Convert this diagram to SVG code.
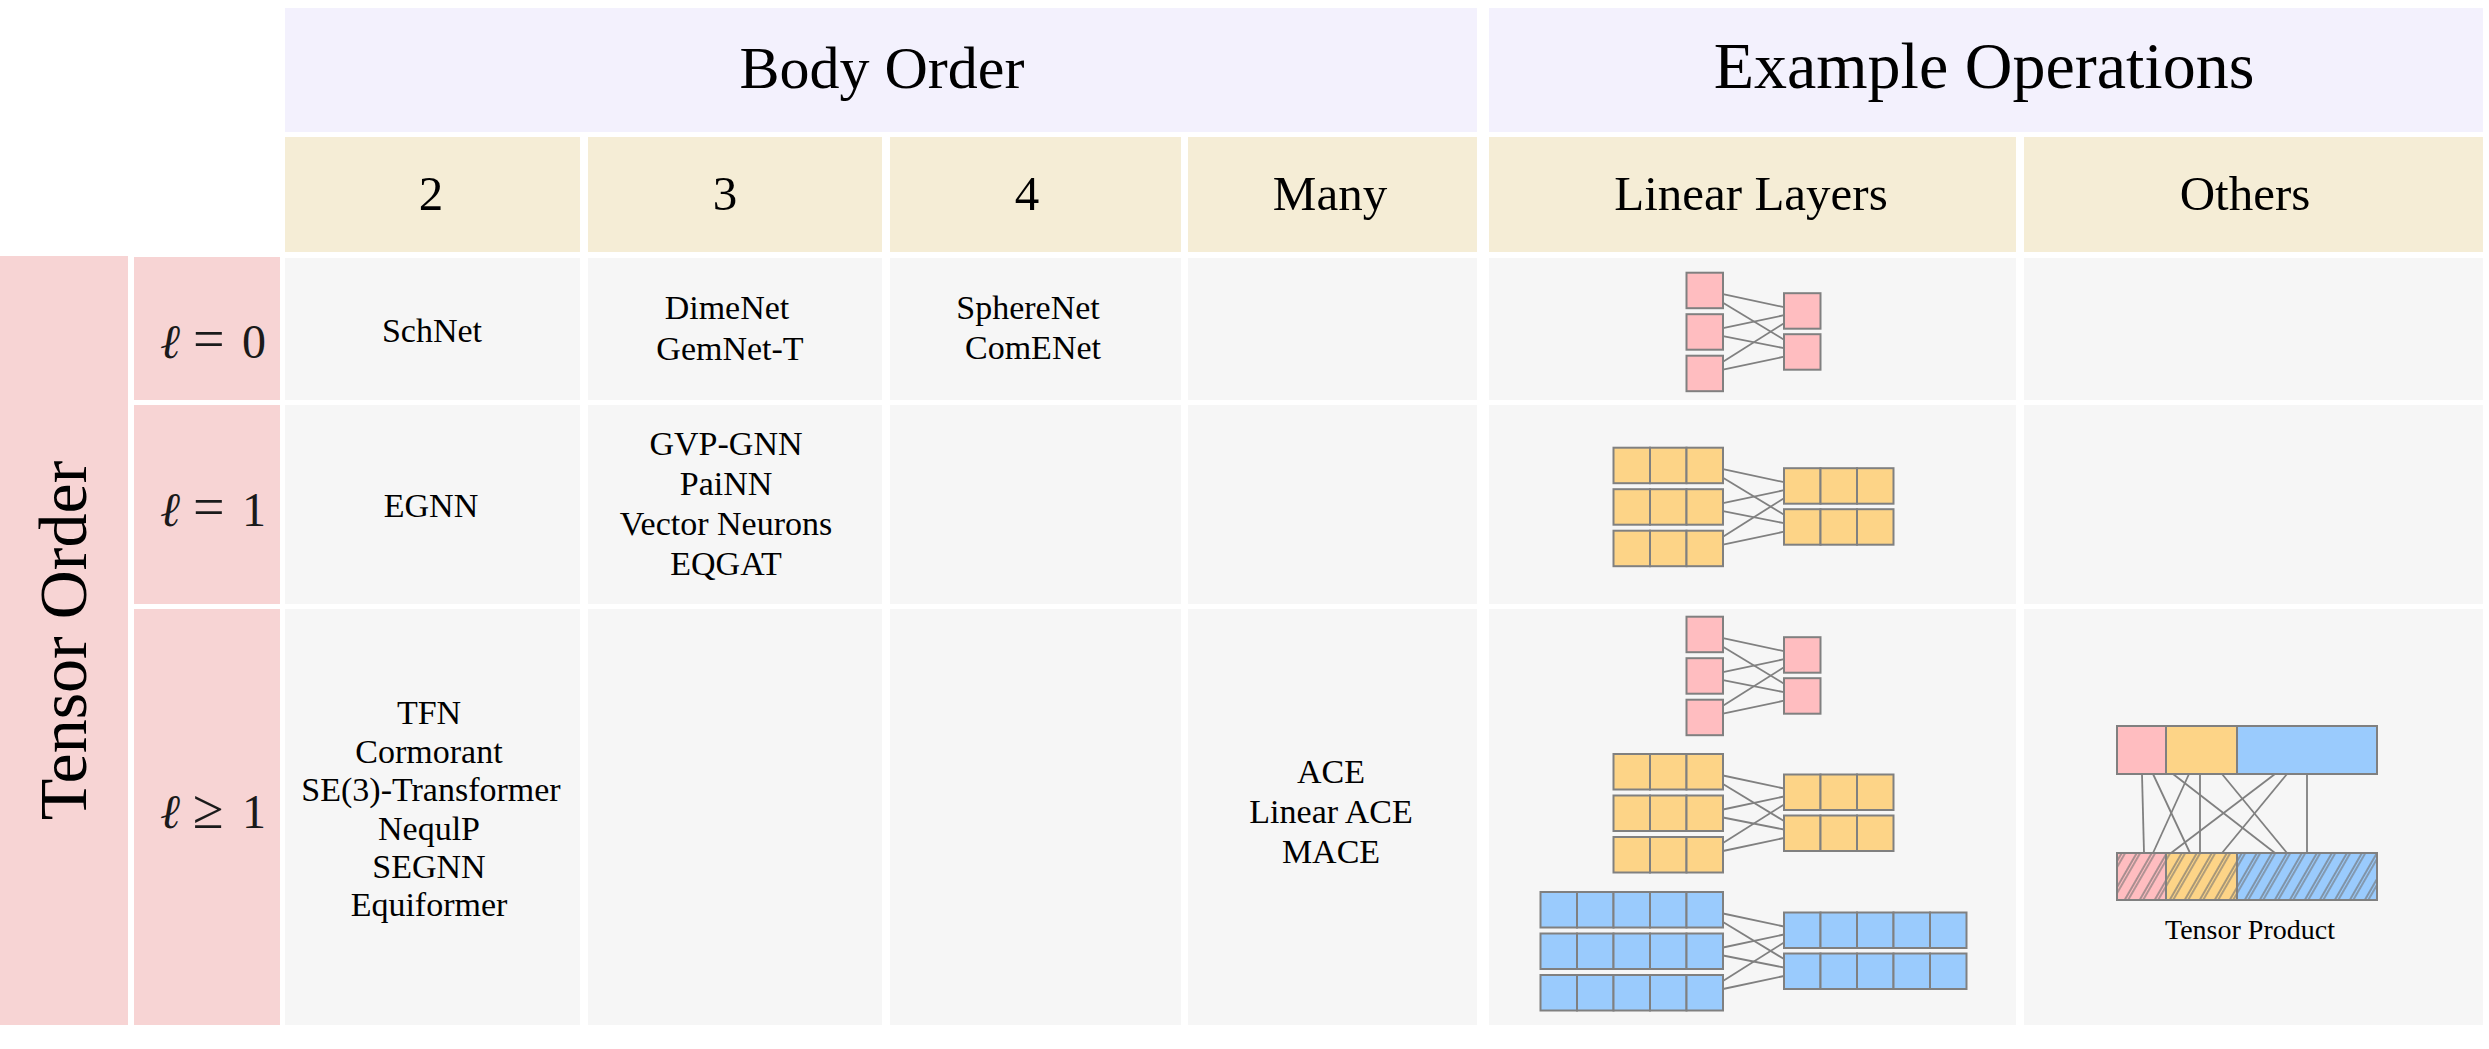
<svg xmlns="http://www.w3.org/2000/svg" width="2489" height="1049" viewBox="0 0 2489 1049">
<style>
text{font-family:"Liberation Serif","Times New Roman","DejaVu Serif",serif;fill:#000}
.hdr{fill:#F3F1FD}
.sub{fill:#F5EDD6}
.cell{fill:#F6F6F6}
.lab{fill:#F7D4D4}
.h1{font-size:60px;text-anchor:middle}
.h2{font-size:49px;text-anchor:middle}
.t{font-size:34px;text-anchor:middle}
.m{font-size:48px;fill:#1a1a1a}
.ell{font-style:italic}
.op{font-size:56px}
.w{stroke:#808080;stroke-width:1.8;fill:none}
.bx{stroke:#808080;stroke-width:2}
</style>
<defs>
<rect id="cP" class="bx" width="36.5" height="35.5" fill="#FFBDC0"/>
<rect id="cY" class="bx" width="36.5" height="35.5" fill="#FDD487"/>
<rect id="cB" class="bx" width="36.5" height="35.5" fill="#9ACBFD"/>
<g id="rY3"><use href="#cY"/><use href="#cY" x="36.5"/><use href="#cY" x="73"/></g>
<g id="rB5"><use href="#cB"/><use href="#cB" x="36.5"/><use href="#cB" x="73"/><use href="#cB" x="109.5"/><use href="#cB" x="146"/></g>
<g id="wires" class="w">
<line x1="1723" y1="21.5" x2="1784" y2="34.5"/>
<line x1="1723" y1="30" x2="1784" y2="67"/>
<line x1="1723" y1="55.5" x2="1784" y2="42.5"/>
<line x1="1723" y1="63.5" x2="1784" y2="75.5"/>
<line x1="1723" y1="89" x2="1784" y2="50.5"/>
<line x1="1723" y1="97" x2="1784" y2="84"/>
</g>
<g id="bP">
<use href="#wires"/>
<use href="#cP" x="1686.5" y="0"/><use href="#cP" x="1686.5" y="41.5"/><use href="#cP" x="1686.5" y="83"/>
<use href="#cP" x="1784" y="20.5"/><use href="#cP" x="1784" y="61.5"/>
</g>
<g id="bY">
<use href="#wires"/>
<use href="#rY3" x="1613.5" y="0"/><use href="#rY3" x="1613.5" y="41.5"/><use href="#rY3" x="1613.5" y="83"/>
<use href="#rY3" x="1784" y="20.5"/><use href="#rY3" x="1784" y="61.5"/>
</g>
<g id="bB">
<use href="#wires"/>
<use href="#rB5" x="1540.5" y="0"/><use href="#rB5" x="1540.5" y="41.5"/><use href="#rB5" x="1540.5" y="83"/>
<use href="#rB5" x="1784" y="20.5"/><use href="#rB5" x="1784" y="61.5"/>
</g>
<pattern id="hatch" patternUnits="userSpaceOnUse" width="13" height="20" patternTransform="rotate(30)">
<line x1="2" y1="0" x2="2" y2="20" stroke="#6f6f6f" stroke-width="1.2"/>
<line x1="5" y1="0" x2="5" y2="20" stroke="#6f6f6f" stroke-width="1.1"/>
</pattern>
</defs>

<rect width="2489" height="1049" fill="#ffffff"/>

<g id="header-body-order">
<rect class="hdr" x="285" y="8" width="1192" height="124"/>
<text class="h1" x="882" y="88">Body Order</text>
</g>
<g id="header-example-operations">
<rect class="hdr" x="1489" y="8" width="994" height="124"/>
<text class="h1" x="1984" y="88" style="font-size:66px">Example Operations</text>
</g>

<g id="sub-2"><rect class="sub" x="285" y="137" width="295" height="115"/><text class="h2" x="431" y="210">2</text></g>
<g id="sub-3"><rect class="sub" x="588" y="137" width="294" height="115"/><text class="h2" x="725" y="210">3</text></g>
<g id="sub-4"><rect class="sub" x="890" y="137" width="291" height="115"/><text class="h2" x="1027" y="210">4</text></g>
<g id="sub-many"><rect class="sub" x="1188" y="137" width="289" height="115"/><text class="h2" x="1330" y="210">Many</text></g>
<g id="sub-linear"><rect class="sub" x="1489" y="137" width="527" height="115"/><text class="h2" x="1751" y="210">Linear Layers</text></g>
<g id="sub-others"><rect class="sub" x="2024" y="137" width="459" height="115"/><text class="h2" x="2245" y="210">Others</text></g>

<g id="tensor-order">
<rect class="lab" x="0" y="256" width="128" height="769"/>
<text transform="translate(86,640.5) rotate(-90)" text-anchor="middle" font-size="68">Tensor Order</text>
</g>

<g id="l0">
<rect class="lab" x="134" y="257" width="146" height="143"/>
<text class="m ell" x="160" y="358">ℓ</text><text class="m op" x="193" y="358">=</text><text class="m" x="242" y="358">0</text>
</g>
<g id="l1">
<rect class="lab" x="134" y="405" width="146" height="199"/>
<text class="m ell" x="160" y="526">ℓ</text><text class="m op" x="193" y="526">=</text><text class="m" x="242" y="526">1</text>
</g>
<g id="lge1">
<rect class="lab" x="134" y="609" width="146" height="416"/>
<text class="m ell" x="160" y="828">ℓ</text><text class="m op" x="193" y="828">≥</text><text class="m" x="242" y="828">1</text>
</g>

<g id="row1">
<rect class="cell" x="285" y="258" width="295" height="142"/>
<rect class="cell" x="588" y="258" width="294" height="142"/>
<rect class="cell" x="890" y="258" width="291" height="142"/>
<rect class="cell" x="1188" y="258" width="289" height="142"/>
<rect class="cell" x="1489" y="258" width="527" height="142"/>
<rect class="cell" x="2024" y="258" width="459" height="142"/>
</g>
<g id="row2">
<rect class="cell" x="285" y="405" width="295" height="199"/>
<rect class="cell" x="588" y="405" width="294" height="199"/>
<rect class="cell" x="890" y="405" width="291" height="199"/>
<rect class="cell" x="1188" y="405" width="289" height="199"/>
<rect class="cell" x="1489" y="405" width="527" height="199"/>
<rect class="cell" x="2024" y="405" width="459" height="199"/>
</g>
<g id="row3">
<rect class="cell" x="285" y="609" width="295" height="416"/>
<rect class="cell" x="588" y="609" width="294" height="416"/>
<rect class="cell" x="890" y="609" width="291" height="416"/>
<rect class="cell" x="1188" y="609" width="289" height="416"/>
<rect class="cell" x="1489" y="609" width="527" height="416"/>
<rect class="cell" x="2024" y="609" width="459" height="416"/>
</g>

<g id="text-row1">
<text class="t" x="432" y="342">SchNet</text>
<text class="t" x="727" y="319">DimeNet</text>
<text class="t" x="730" y="360">GemNet-T</text>
<text class="t" x="1028" y="319">SphereNet</text>
<text class="t" x="1033" y="359">ComENet</text>
</g>
<g id="text-row2">
<text class="t" x="431" y="517">EGNN</text>
<text class="t" x="726" y="455">GVP-GNN</text>
<text class="t" x="726" y="495">PaiNN</text>
<text class="t" x="726" y="535">Vector Neurons</text>
<text class="t" x="726" y="575">EQGAT</text>
</g>
<g id="text-row3">
<text class="t" x="429" y="724">TFN</text>
<text class="t" x="429" y="763">Cormorant</text>
<text class="t" x="431" y="801">SE(3)-Transformer</text>
<text class="t" x="429" y="840">NequlP</text>
<text class="t" x="429" y="878">SEGNN</text>
<text class="t" x="429" y="916">Equiformer</text>
<text class="t" x="1331" y="783">ACE</text>
<text class="t" x="1331" y="823">Linear ACE</text>
<text class="t" x="1331" y="863">MACE</text>
</g>

<g id="linear-l0"><use href="#bP" y="272.7"/></g>
<g id="linear-l1"><use href="#bY" y="447.7"/></g>
<g id="linear-lge1">
<use href="#bP" y="616.7"/>
<use href="#bY" y="754"/>
<use href="#bB" y="892"/>
</g>

<g id="tensor-product">
<g id="tp-connectors" class="w">
<line x1="2142" y1="774" x2="2144" y2="853"/>
<line x1="2153" y1="774" x2="2190" y2="853"/>
<line x1="2189" y1="774" x2="2153" y2="853"/>
<line x1="2173" y1="774" x2="2275" y2="853"/>
<line x1="2200" y1="774" x2="2200" y2="853"/>
<line x1="2222" y1="774" x2="2287" y2="853"/>
<line x1="2275" y1="774" x2="2171" y2="853"/>
<line x1="2287" y1="774" x2="2222" y2="853"/>
<line x1="2307" y1="774" x2="2307" y2="853"/>
</g>
<g id="tp-input">
<rect class="bx" x="2117" y="726" width="49" height="48" fill="#FFBDC0"/>
<rect class="bx" x="2166" y="726" width="71" height="48" fill="#FDD487"/>
<rect class="bx" x="2237" y="726" width="140" height="48" fill="#9ACBFD"/>
</g>
<g id="tp-output">
<rect x="2117" y="853" width="49" height="47" fill="#FFBDC0"/>
<rect x="2166" y="853" width="71" height="47" fill="#FDD487"/>
<rect x="2237" y="853" width="140" height="47" fill="#9ACBFD"/>
<rect x="2117" y="853" width="260" height="47" fill="url(#hatch)"/>
<rect class="bx" x="2117" y="853" width="49" height="47" fill="none"/>
<rect class="bx" x="2166" y="853" width="71" height="47" fill="none"/>
<rect class="bx" x="2237" y="853" width="140" height="47" fill="none"/>
</g>
<text x="2250" y="939" text-anchor="middle" font-size="28">Tensor Product</text>
</g>
</svg>
